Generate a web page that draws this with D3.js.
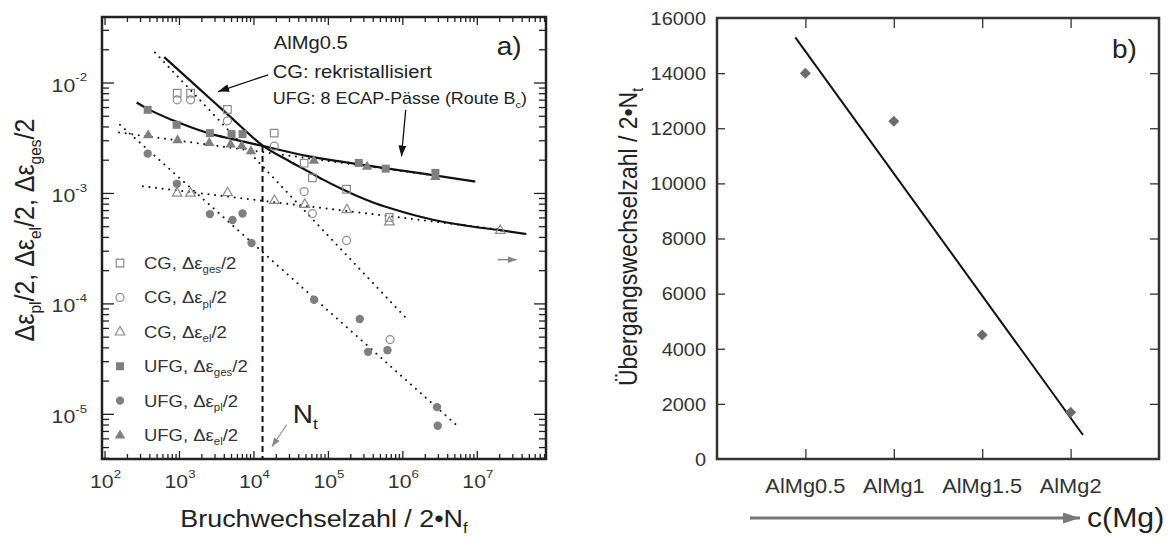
<!DOCTYPE html>
<html>
<head>
<meta charset="utf-8">
<script src="https://cdn.jsdelivr.net/npm/d3@7"></script>
<style>
  body { margin: 0; background: #fff; }
  svg { display: block; font-family: "Liberation Sans", Arial, sans-serif; }
</style>
</head>
<body>
<div id="chart"></div>
<script>
// --- DATA: panel a) strain amplitude vs. cycles to failure [N, strain] ---
const cgGes  = [[946, 8.0e-3], [1430, 8.0e-3], [4470, 5.7e-3], [19000, 3.48e-3], [48000, 1.86e-3], [62000, 1.37e-3], [178000, 1.08e-3], [667000, 6.0e-4]];
const cgPl   = [[946, 6.97e-3], [1430, 6.97e-3], [4470, 4.5e-3], [19000, 2.66e-3], [48000, 1.03e-3], [62000, 6.5e-4], [178000, 3.72e-4], [684000, 4.7e-5]];
const cgEl   = [[946, 1.0e-3], [1430, 1.0e-3], [4500, 1.01e-3], [19200, 8.6e-4], [49000, 7.9e-4], [180000, 7.1e-4], [670000, 5.5e-4], [2.07e7, 4.6e-4]];
const ufgGes = [[380, 5.66e-3], [929, 4.14e-3], [2600, 3.48e-3], [5080, 3.41e-3], [7140, 3.41e-3], [260000, 1.87e-3], [598000, 1.66e-3], [2.78e6, 1.52e-3]];
const ufgPl  = [[380, 2.27e-3], [937, 1.21e-3], [2600, 6.44e-4], [5240, 5.69e-4], [7140, 6.52e-4], [9420, 3.52e-4], [65300, 1.08e-4], [268000, 7.22e-5], [347000, 3.64e-5], [631000, 3.77e-5], [2.92e6, 1.15e-5], [2.99e6, 7.8e-6]];
const ufgEl  = [[386, 3.36e-3], [957, 3.03e-3], [2550, 2.86e-3], [4940, 2.77e-3], [6950, 2.69e-3], [9250, 2.41e-3], [64700, 1.97e-3], [336000, 1.74e-3], [2.78e6, 1.41e-3]];

// dotted fits (straight in log-log, end points)
const cgPlFit  = [[476, 1.87e-2], [1.087e6, 7.53e-5]];
const cgElFit  = [[327, 1.15e-3], [1.91e7, 4.69e-4]];
const ufgPlFit = [[161, 4.14e-3], [5.89e6, 7.45e-6]];
const ufgElFit = [[157, 3.53e-3], [2.9e6, 1.43e-3]];

// solid total-strain curves
const cgTotal  = [[633, 1.70e-2], [1909, 8.68e-3], [4818, 4.94e-3], [13490, 2.67e-3], [30800, 1.93e-3], [51600, 1.60e-3], [86300, 1.32e-3], [144600, 1.107e-3], [242000, 9.43e-4], [404500, 8.21e-4], [677000, 7.30e-4], [1.135e6, 6.58e-4], [2.56e6, 5.72e-4], [7.25e6, 5.05e-4], [2.03e7, 4.60e-4], [4.63e7, 4.25e-4]];
const ufgTotal = [[270, 6.59e-3], [386, 5.74e-3], [796, 4.60e-3], [1477, 3.92e-3], [2740, 3.41e-3], [5080, 3.09e-3], [13490, 2.66e-3], [51600, 2.17e-3], [144600, 1.93e-3], [404500, 1.74e-3], [1.71e6, 1.51e-3], [9.57e6, 1.27e-3]];

const transitionN = 13250;
const transitionStrain = 2.66e-3;
const xDecades = [2, 3, 4, 5, 6, 7];
const yDecades = [-2, -3, -4, -5];

// --- DATA: panel b) transition cycles vs. Mg content ---
const alloys = ["AlMg0.5", "AlMg1", "AlMg1.5", "AlMg2"];
const mgContent = [0.5, 1, 1.5, 2];
const transitionCycles = [14000, 12250, 4500, 1700];
const regression = [[0.443, 15300], [2.07, 870]];
const yTicksB = [0, 2000, 4000, 6000, 8000, 10000, 12000, 14000, 16000];

// --- SETUP ---
const W = 1170, H = 539;
const SX = 1.12;   // glyphs in the original are a bit wider than Liberation Sans
const svg = d3.select("#chart").append("svg").attr("width", W).attr("height", H);
svg.append("rect").attr("width", W).attr("height", H).attr("fill", "#fff");

const defs = svg.append("defs");
function arrowHead(id, color, w, h) {
    defs.append("marker").attr("id", id)
        .attr("viewBox", `0 0 ${w} ${h}`).attr("refX", w).attr("refY", h / 2)
        .attr("markerWidth", w).attr("markerHeight", h)
        .attr("markerUnits", "userSpaceOnUse").attr("orient", "auto")
        .append("path").attr("d", `M0,0L${w},${h / 2}L0,${h}z`).attr("fill", color);
}
arrowHead("headBlack", "#111", 11, 8);
arrowHead("headGray", "#888", 9, 7);
arrowHead("headBig", "#777", 17, 11);

// text with sub/superscripts, horizontally stretched
function richText(parent, x, y, parts, size, opt = {}) {
    const g = parent.append("g")
        .attr("transform", `translate(${x},${y}) scale(${SX},1)` + (opt.rotate ? " rotate(-90)" : ""));
    const t = g.append("text").attr("font-size", size)
        .attr("text-anchor", opt.anchor || "start")
        .attr("fill", opt.color || "#222");
    let shift = 0;
    parts.forEach(p => {
        const [s, kind] = typeof p === "string" ? [p, ""] : p;
        const target = kind === "sub" ? size * 0.25 : kind === "sup" ? -size * 0.53 : 0;
        t.append("tspan").attr("dy", target - shift)
            .attr("font-size", kind ? size * 0.62 : size).text(s);
        shift = target;
    });
    return t;
}

// ================= PANEL A =================
const A = { left: 102, right: 546, top: 17, bottom: 459 };
const x = d3.scaleLog().domain([92.5, 8.5e7]).range([A.left, A.right]);
const y = d3.scaleLog().domain([3.9e-6, 3.92e-2]).range([A.bottom, A.top]);
const ga = svg.append("g");

const isMajor = t => Math.abs(Math.log10(t) - Math.round(Math.log10(t))) < 1e-6;
const xMaj = x.ticks().filter(isMajor), xMin = x.ticks().filter(t => !isMajor(t));
const yMaj = y.ticks().filter(isMajor), yMin = y.ticks().filter(t => !isMajor(t));

function drawAxis(axisFn, scale, vals, len, tx, ty) {
    const g = ga.append("g").attr("transform", `translate(${tx},${ty})`)
        .call(axisFn(scale).tickValues(vals).tickSize(-len).tickFormat(""));
    g.select(".domain").remove();
    g.selectAll("line").attr("stroke", "#222").attr("stroke-width", 1.3);
}
drawAxis(d3.axisBottom, x, xMaj, 8, 0, A.bottom);
drawAxis(d3.axisBottom, x, xMin, 5, 0, A.bottom);
drawAxis(d3.axisTop, x, xMaj, 8, 0, A.top);
drawAxis(d3.axisTop, x, xMin, 5, 0, A.top);
drawAxis(d3.axisLeft, y, yMaj, 12, A.left, 0);
drawAxis(d3.axisLeft, y, yMin, 7, A.left, 0);
drawAxis(d3.axisRight, y, yMaj, 12, A.right, 0);
drawAxis(d3.axisRight, y, yMin, 7, A.right, 0);

ga.append("rect").attr("x", A.left).attr("y", A.top)
    .attr("width", A.right - A.left).attr("height", A.bottom - A.top)
    .attr("fill", "none").attr("stroke", "#222").attr("stroke-width", 2.5);

xDecades.forEach(d => richText(ga, x(Math.pow(10, d)) + 1, 488, ["10", [String(d), "sup"]], 19, { anchor: "middle", color: "#333" }));
yDecades.forEach(d => richText(ga, 87, y(Math.pow(10, d)) + 9, ["10", [String(d), "sup"]], 19, { anchor: "end", color: "#333" }));

richText(ga, 324, 527, ["Bruchwechselzahl / 2•N", ["f", "sub"]], 24, { anchor: "middle" });
richText(ga, 34, 230, ["Δε", ["pl", "sub"], "/2, Δε", ["el", "sub"], "/2, Δε", ["ges", "sub"], "/2"], 25, { anchor: "middle", rotate: true });

// lines
const line = d3.line().x(d => x(d[0])).y(d => y(d[1]));
const dotted = { stroke: "#111", "stroke-width": 2, "stroke-linecap": "round", "stroke-dasharray": "0.01 6.6", fill: "none" };
[cgPlFit, cgElFit, ufgPlFit, ufgElFit].forEach(f => {
    const p = ga.append("path").attr("d", line(f));
    Object.entries(dotted).forEach(([k, v]) => p.attr(k, v));
});
const curve = d3.line().x(d => x(d[0])).y(d => y(d[1])).curve(d3.curveMonotoneX);
[cgTotal, ufgTotal].forEach(c => ga.append("path").attr("d", curve(c))
    .attr("fill", "none").attr("stroke", "#111").attr("stroke-width", 2.2));

ga.append("line")
    .attr("x1", x(transitionN)).attr("x2", x(transitionN))
    .attr("y1", y(transitionStrain)).attr("y2", A.bottom)
    .attr("stroke", "#111").attr("stroke-width", 2).attr("stroke-dasharray", "6,4");

// markers
const GRAY = "#7f7f7f", OPEN = "#8c8c8c";
const shapes = {
    square: "M-4,-4H4V4H-4Z",
    osquare: "M-3.8,-3.8H3.8V3.8H-3.8Z",
    circle: d3.symbol(d3.symbolCircle, 55)(),
    ocircle: d3.symbol(d3.symbolCircle, 50)(),
    triangle: "M0,-5.6L5.2,3.4H-5.2Z",
    otriangle: "M0,-5.2L4.8,3.2H-4.8Z"
};
function drawMarker(g, px, py, shape, filled) {
    g.append("path").attr("d", shapes[(filled ? "" : "o") + shape])
        .attr("transform", `translate(${px},${py})`)
        .attr("fill", filled ? GRAY : "none")
        .attr("stroke", filled ? "none" : OPEN).attr("stroke-width", 1.2);
}
const series = [
    { data: cgGes, shape: "square", filled: false, label: ["CG, Δε", ["ges", "sub"], "/2"] },
    { data: cgPl, shape: "circle", filled: false, label: ["CG, Δε", ["pl", "sub"], "/2"] },
    { data: cgEl, shape: "triangle", filled: false, label: ["CG, Δε", ["el", "sub"], "/2"] },
    { data: ufgGes, shape: "square", filled: true, label: ["UFG, Δε", ["ges", "sub"], "/2"] },
    { data: ufgPl, shape: "circle", filled: true, label: ["UFG, Δε", ["pl", "sub"], "/2"] },
    { data: ufgEl, shape: "triangle", filled: true, label: ["UFG, Δε", ["el", "sub"], "/2"] }
];
series.forEach(s => s.data.forEach(d => drawMarker(ga, x(d[0]), y(d[1]), s.shape, s.filled)));

// legend
series.forEach((s, i) => {
    const ly = 263 + i * 34.4;
    drawMarker(ga, 120, ly, s.shape, s.filled);
    richText(ga, 144, ly + 6, s.label, 16.5, { color: "#333" });
});

// annotations
richText(ga, x(18800), y(2.02e-2), ["AlMg0.5"], 18);
richText(ga, x(18200), y(1.11e-2), ["CG: rekristallisiert"], 18);
richText(ga, x(18200), y(6.35e-3), ["UFG: 8 ECAP-Pässe (Route B", ["c", "sub"], ")"], 16);
richText(ga, x(1.85e7), y(1.78e-2), ["a)"], 25);
richText(ga, x(33800), y(8.28e-6), ["N", ["t", "sub"]], 25);

function arrow(x1, y1, x2, y2, color, width, head) {
    ga.append("line").attr("x1", x(x1)).attr("y1", y(y1)).attr("x2", x(x2)).attr("y2", y(y2))
        .attr("stroke", color).attr("stroke-width", width).attr("marker-end", `url(#${head})`);
}
arrow(15800, 1.175e-2, 3365, 8.29e-3, "#111", 1.3, "headBlack");
arrow(1.11e6, 5.66e-3, 9.73e5, 2.14e-3, "#111", 1.3, "headBlack");
arrow(1.91e7, 2.49e-4, 3.44e7, 2.49e-4, "#888", 1.5, "headGray");
arrow(28000, 7.98e-6, 17700, 5.05e-6, "#999", 1.2, "headGray");

// ================= PANEL B =================
const B = { left: 717, right: 1159, top: 18, bottom: 459 };
const xb = d3.scaleLinear().domain([0, 2.5]).range([B.left, B.right]);
const yb = d3.scaleLinear().domain([0, 16000]).range([B.bottom, B.top]);
const gb = svg.append("g");

function axisB(axisFn, scale, vals, len, tx, ty) {
    const g = gb.append("g").attr("transform", `translate(${tx},${ty})`)
        .call(axisFn(scale).tickValues(vals).tickSize(-len).tickFormat(""));
    g.select(".domain").remove();
    g.selectAll("line").attr("stroke", "#333").attr("stroke-width", 1.3);
}
axisB(d3.axisLeft, yb, yTicksB.slice(1, -1), 8, B.left, 0);
axisB(d3.axisRight, yb, yTicksB.slice(1, -1), 9, B.right, 0);
axisB(d3.axisTop, xb, mgContent, 10, 0, B.top);
axisB(d3.axisBottom, xb, mgContent, 10, 0, B.bottom);

gb.append("rect").attr("x", B.left).attr("y", B.top)
    .attr("width", B.right - B.left).attr("height", B.bottom - B.top)
    .attr("fill", "none").attr("stroke", "#333").attr("stroke-width", 2.5);

yTicksB.forEach(v => richText(gb, 706, yb(v) + 6.8, [String(v)], 17.8, { anchor: "end", color: "#333" }));
alloys.forEach((a, i) => richText(gb, xb(mgContent[i]), 493, [a], 19.5, { anchor: "middle", color: "#333" }));

gb.append("path").attr("d", d3.line().x(d => xb(d[0])).y(d => yb(d[1]))(regression))
    .attr("fill", "none").attr("stroke", "#111").attr("stroke-width", 2);

gb.selectAll(".dia").data(mgContent).join("path").attr("class", "dia")
    .attr("d", "M0,-5.5L5.5,0L0,5.5L-5.5,0Z")
    .attr("transform", (d, i) => `translate(${xb(d)},${yb(transitionCycles[i])})`)
    .attr("fill", "#6b6b6b");

richText(gb, xb(2.234), yb(14550), ["b)"], 25);
richText(gb, 637, 237, ["Übergangswechselzahl / 2•N", ["t", "sub"]], 23, { anchor: "middle", rotate: true });

gb.append("line").attr("x1", 750).attr("x2", 1080).attr("y1", 518).attr("y2", 518)
    .attr("stroke", "#777").attr("stroke-width", 3).attr("marker-end", "url(#headBig)");
richText(gb, 1087, 527, ["c(Mg)"], 27);
</script>
</body>
</html>
